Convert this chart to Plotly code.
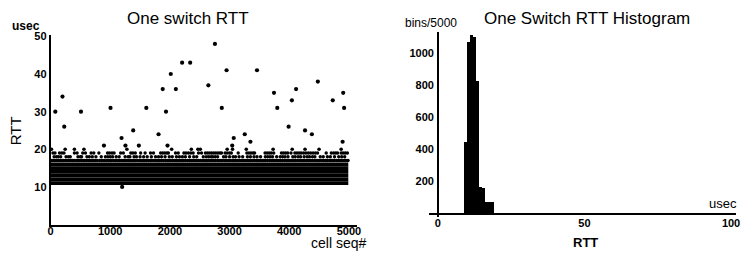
import plotly.graph_objects as go

# ---------------- data: left panel (RTT vs cell sequence number) ----------------
seq_ticks = [0, 1000, 2000, 3000, 4000, 5000]
rtt_ticks = [10, 20, 30, 40, 50]

# dense band: every cell has an RTT between 11 and 16 usec
band_levels = [11, 12, 13, 14, 15, 16]
band_seq_span = [0, 4990]

row17_seq = [10, 35, 55, 85, 110, 140, 165, 195, 220, 250, 280, 310, 345, 370, 395, 430, 455, 480,
             515, 545, 570, 600, 630, 660, 690, 720, 745, 780, 820, 850, 875, 905, 940, 970, 1000,
             1025, 1060, 1090, 1120, 1150, 1185, 1215, 1240, 1270, 1300, 1335, 1365, 1395, 1420,
             1455, 1490, 1520, 1550, 1580, 1610, 1645, 1675, 1700, 1735, 1770, 1800, 1830, 1860,
             1890, 1925, 1955, 1985, 2010, 2045, 2075, 2105, 2135, 2170, 2200, 2230, 2260, 2295,
             2325, 2355, 2385, 2420, 2450, 2480, 2510, 2545, 2575, 2605, 2635, 2670, 2700, 2730,
             2760, 2795, 2825, 2855, 2885, 2920, 2950, 2980, 3010, 3045, 3075, 3105, 3135, 3170,
             3200, 3230, 3260, 3295, 3325, 3355, 3385, 3420, 3450, 3480, 3510, 3545, 3575, 3605,
             3635, 3670, 3700, 3730, 3760, 3795, 3825, 3855, 3885, 3920, 3950, 3980, 4010, 4045,
             4075, 4105, 4135, 4170, 4200, 4230, 4260, 4295, 4325, 4355, 4385, 4420, 4450, 4480,
             4510, 4545, 4575, 4605, 4635, 4670, 4700, 4730, 4760, 4795, 4825, 4855, 4885, 4920,
             4950, 4985]

row18_seq = [60, 100, 130, 170, 260, 300, 330, 460, 500, 520, 610, 650, 700, 760, 850, 920, 960,
             1000, 1040, 1100, 1150, 1250, 1300, 1330, 1400, 1440, 1500, 1560, 1620, 1690, 1760,
             1810, 1860, 1920, 1990, 2040, 2110, 2160, 2210, 2260, 2330, 2400, 2450, 2560, 2610,
             2650, 2690, 2720, 2760, 2800, 2900, 2940, 3000, 3060, 3100, 3160, 3220, 3300, 3350,
             3410, 3460, 3520, 3600, 3640, 3680, 3720, 3790, 3850, 3890, 3930, 3980, 4060, 4100,
             4150, 4190, 4250, 4300, 4340, 4390, 4430, 4520, 4570, 4640, 4690, 4760, 4830, 4880,
             4930]

row19_seq = [40, 75, 150, 190, 225, 400, 445, 540, 585, 680, 725, 810, 955, 990, 1030, 1065, 1175,
             1220, 1345, 1380, 1420, 1510, 1585, 1675, 1725, 1845, 1880, 1915, 1950, 1975, 2095,
             2140, 2235, 2270, 2310, 2350, 2390, 2480, 2530, 2595, 2630, 2665, 2700, 2735, 2770,
             2805, 2840, 2865, 2925, 2960, 3000, 3030, 3145, 3290, 3325, 3360, 3395, 3420, 3595,
             3630, 3665, 3700, 3740, 3870, 3905, 3940, 3975, 4030, 4095, 4130, 4165, 4200, 4240,
             4280, 4320, 4360, 4400, 4440, 4475, 4620, 4705, 4745, 4780, 4810, 4870, 4905, 4940,
             4975]

row20_seq = [15, 245, 400, 560, 1280, 2030, 2360, 2470, 2510, 2960, 3050, 3280, 3730, 4050, 4265,
             4500, 4870]

outlier_seq = [80, 200, 230, 895, 510, 1005, 1190, 1200, 1255, 1385, 1480, 1605, 1810, 1880, 1935,
               1960, 2015, 2100, 2205, 2340, 2645, 2755, 2870, 2950, 3045, 3070, 3255, 3350, 3460,
               3745, 3800, 3990, 4045, 4115, 4265, 4380, 4480, 4730, 4905, 4920, 4895]
outlier_rtt = [30, 34, 26, 21, 30, 31, 23, 10, 21, 25, 21, 31, 24, 36, 30,
               21, 40, 36, 43, 43, 37, 48, 31, 41, 21, 23, 24, 22, 41,
               35, 31, 26, 33, 36, 25, 24, 38, 33, 35, 31, 22]

# ---------------- data: right panel (histogram) ----------------
hist_rtt = [9.5, 10.5, 11.5, 12.5, 13.5, 14.5, 15.5, 16.5, 17.5, 18.5]
hist_counts = [445, 1065, 1110, 1095, 825, 165, 160, 72, 70, 68]
hist_xticks = [0, 50, 100]
hist_yticks = [200, 400, 600, 800, 1000]

W, H = 743, 253
FONT = "Liberation Sans, Arial, sans-serif"

fig = go.Figure()

for lvl in band_levels:
    fig.add_trace(go.Scatter(x=band_seq_span, y=[lvl, lvl], mode="lines",
                             line=dict(color="black", width=3.6),
                             xaxis="x", yaxis="y", hoverinfo="skip"))

for rows, lvl, sz in [(row17_seq, 17, 3.5), (row18_seq, 18, 3.4),
                      (row19_seq, 19, 3.4), (row20_seq, 20, 3.6)]:
    fig.add_trace(go.Scatter(x=rows, y=[lvl] * len(rows), mode="markers",
                             marker=dict(color="black", size=sz, line=dict(width=0)),
                             xaxis="x", yaxis="y", hoverinfo="skip"))

fig.add_trace(go.Scatter(x=outlier_seq, y=outlier_rtt, mode="markers",
                         marker=dict(color="black", size=4.2, line=dict(width=0)),
                         xaxis="x", yaxis="y", hoverinfo="skip", cliponaxis=False))

fig.add_trace(go.Bar(x=hist_rtt, y=hist_counts, width=1.0,
                     marker=dict(color="black", line=dict(width=0)),
                     xaxis="x2", yaxis="y2", hoverinfo="skip"))


def px_x(p):
    return p / W


def px_y(p):
    return (H - p) / H


tickfont_l = dict(family=FONT, size=11, color="black", weight="bold")
tickfont_r = dict(family=FONT, size=11, color="black", weight="bold")

fig.update_layout(
    width=W, height=H,
    margin=dict(l=0, r=0, t=0, b=0),
    paper_bgcolor="white", plot_bgcolor="white",
    showlegend=False, bargap=0,
    xaxis=dict(domain=[px_x(48), px_x(357)], range=[0, 5130], anchor="y",
               tickvals=seq_ticks, ticktext=[str(v) for v in seq_ticks],
               showline=True, linecolor="black", linewidth=1.5, mirror=False,
               showgrid=False, zeroline=False, ticks="", tickfont=tickfont_l,
               ticklabelstandoff=-5),
    yaxis=dict(domain=[px_y(224), px_y(31)], range=[0, 50.26], anchor="x",
               tickvals=rtt_ticks, ticktext=[str(v) for v in rtt_ticks],
               showline=True, linecolor="black", linewidth=1.5,
               showgrid=False, zeroline=False, ticks="", tickfont=tickfont_l),
    xaxis2=dict(domain=[px_x(430), px_x(740)], range=[-3.04, 101.7], anchor="y2",
                tickvals=hist_xticks, ticktext=[str(v) for v in hist_xticks],
                showline=False, showgrid=False, zeroline=True, zerolinecolor="black",
                zerolinewidth=1.5, ticks="", tickfont=tickfont_r, ticklabelstandoff=-2),
    yaxis2=dict(domain=[px_y(216), px_y(28)], range=[-18.3, 1128], anchor="x2",
                tickvals=hist_yticks, ticktext=[str(v) for v in hist_yticks],
                showline=False, showgrid=False, zeroline=True, zerolinecolor="black",
                zerolinewidth=1.5, ticks="", tickfont=tickfont_r, ticklabelstandoff=-6),
)

annots = [
    dict(text="One switch RTT", x=px_x(187), y=px_y(14), size=17),
    dict(text="One Switch RTT Histogram", x=px_x(590), y=px_y(14), size=17),
    dict(text="usec", x=px_x(23), y=px_y(21), size=12, weight="bold"),
    dict(text="cell seq#", x=px_x(339), y=px_y(243), size=14),
    dict(text="bins/5000", x=px_x(432), y=px_y(18), size=12),
    dict(text="usec", x=px_x(727), y=px_y(202), size=13),
    dict(text="RTT", x=px_x(588), y=px_y(242), size=13, weight="bold"),
]
for a in annots:
    fig.add_annotation(text=a["text"], x=a["x"], y=a["y"], xref="paper", yref="paper",
                       xanchor="center", yanchor="middle", showarrow=False,
                       font=dict(family=FONT, size=a["size"], color="black",
                                 weight=a.get("weight", "normal")))

fig.add_annotation(text="RTT", x=px_x(13), y=px_y(128), xref="paper", yref="paper",
                   xanchor="center", yanchor="middle", showarrow=False, textangle=-90,
                   font=dict(family=FONT, size=15, color="black"))

fig.write_html("out.html", config={"displayModeBar": False},
               post_script="document.body.style.margin='0';document.body.style.overflow='hidden';")
